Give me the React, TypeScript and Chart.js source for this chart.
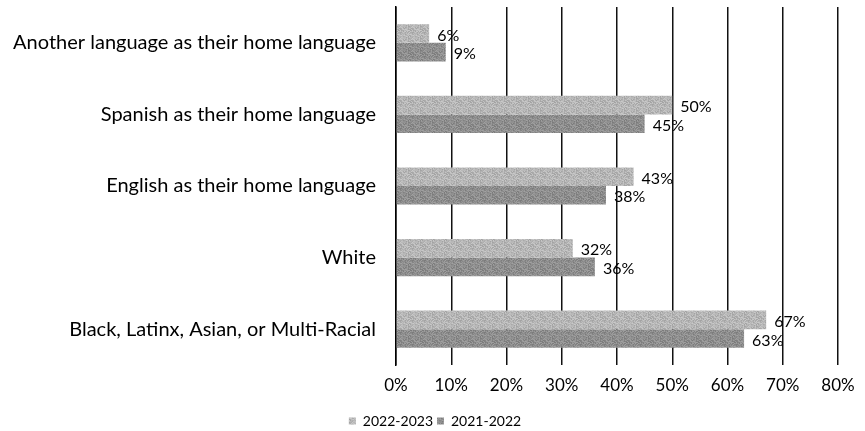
import React, { useEffect, useRef } from "react";
import { Chart, registerables } from "chart.js";

Chart.register(...registerables);

const categories = [
  "Another language as their home language",
  "Spanish as their home language",
  "English as their home language",
  "White",
  "Black, Latinx, Asian, or Multi-Racial",
];
const series2223 = [6, 50, 43, 32, 67];
const series2122 = [9, 45, 38, 36, 63];
const seriesLabels = ["2022-2023", "2021-2022"];
const xTicks = [0, 10, 20, 30, 40, 50, 60, 70, 80];

const FONT = "Lato, 'Liberation Sans', sans-serif";

function makePattern(base: number, spread: number): CanvasPattern | string {
  const c = document.createElement("canvas");
  c.width = 12;
  c.height = 12;
  const g = c.getContext("2d");
  if (!g) return `rgb(${base},${base},${base})`;
  const img = g.createImageData(12, 12);
  for (let y = 0; y < 12; y++) {
    for (let x = 0; x < 12; x++) {
      const h = Math.sin(x * 12.9898 + y * 78.233) * 43758.5453;
      const f = h - Math.floor(h);
      const v = Math.round(base + (f - 0.5) * spread);
      const i = (y * 12 + x) * 4;
      img.data[i] = v;
      img.data[i + 1] = v;
      img.data[i + 2] = v;
      img.data[i + 3] = 255;
    }
  }
  g.putImageData(img, 0, 0);
  const p = g.createPattern(c, "repeat");
  return p || `rgb(${base},${base},${base})`;
}

const dataLabelPlugin = {
  id: "dataLabels",
  afterDatasetsDraw(chart: any) {
    const ctx = chart.ctx;
    ctx.save();
    ctx.font = `16px ${FONT}`;
    ctx.fillStyle = "#000";
    ctx.textAlign = "left";
    ctx.textBaseline = "middle";
    chart.data.datasets.forEach((ds: any, di: number) => {
      const meta = chart.getDatasetMeta(di);
      meta.data.forEach((el: any, i: number) => {
        ctx.fillText(`${ds.data[i]}%`, el.x + 8, el.y + 2);
      });
    });
    ctx.restore();
  },
};

const legendShiftPlugin = {
  id: "legendShift",
  afterLayout(chart: any) {
    if (chart.legend) {
      chart.legend.left += 16;
      chart.legend.right += 16;
    }
  },
};

export default function App() {
  const ref = useRef<HTMLCanvasElement>(null);
  useEffect(() => {
    if (!ref.current) return;
    const light = makePattern(182, 40);
    const dark = makePattern(142, 40);
    const chart = new Chart(ref.current, {
      type: "bar",
      data: {
        labels: categories,
        datasets: [
          {
            label: seriesLabels[0],
            data: series2223,
            backgroundColor: light as any,
            barPercentage: 1,
            categoryPercentage: 0.52,
          },
          {
            label: seriesLabels[1],
            data: series2122,
            backgroundColor: dark as any,
            barPercentage: 1,
            categoryPercentage: 0.52,
          },
        ],
      },
      options: {
        indexAxis: "y",
        responsive: false,
        animation: false,
        layout: { padding: { top: 7, right: 27, left: 0, bottom: -7 } },
        plugins: {
          legend: {
            position: "bottom",
            labels: {
              boxWidth: 7,
              boxHeight: 7,
              color: "#000",
              font: { family: FONT, size: 14 },
              padding: 4,
            },
          },
          tooltip: { enabled: false },
        },
        scales: {
          x: {
            min: 0,
            max: 80,
            afterBuildTicks: (scale: any) => {
              scale.ticks = xTicks.map((v) => ({ value: v }));
            },
            afterFit: (scale: any) => {
              scale.height = 45;
            },
            ticks: {
              callback: (v: any) => `${v}%`,
              color: "#000",
              font: { family: FONT, size: 17 },
              padding: 10,
            },
            grid: { color: "#111", lineWidth: 1.5, drawTicks: false },
            border: { display: false },
          },
          y: {
            afterFit: (scale: any) => {
              scale.width = 396;
              scale.paddingTop = 0;
              scale.paddingBottom = 0;
            },
            ticks: {
              color: "#000",
              font: { family: FONT, size: 20 },
              padding: 20,
            },
            grid: { display: false, drawTicks: false },
            border: { display: true, color: "#000", width: 1.5 },
          },
        },
      },
      plugins: [dataLabelPlugin, legendShiftPlugin],
    });
    return () => chart.destroy();
  }, []);
  return (
    <div style={{ position: "fixed", left: 0, top: 0, width: 865, height: 431, background: "#fff" }}>
      <canvas ref={ref} width={865} height={431} />
    </div>
  );
}
